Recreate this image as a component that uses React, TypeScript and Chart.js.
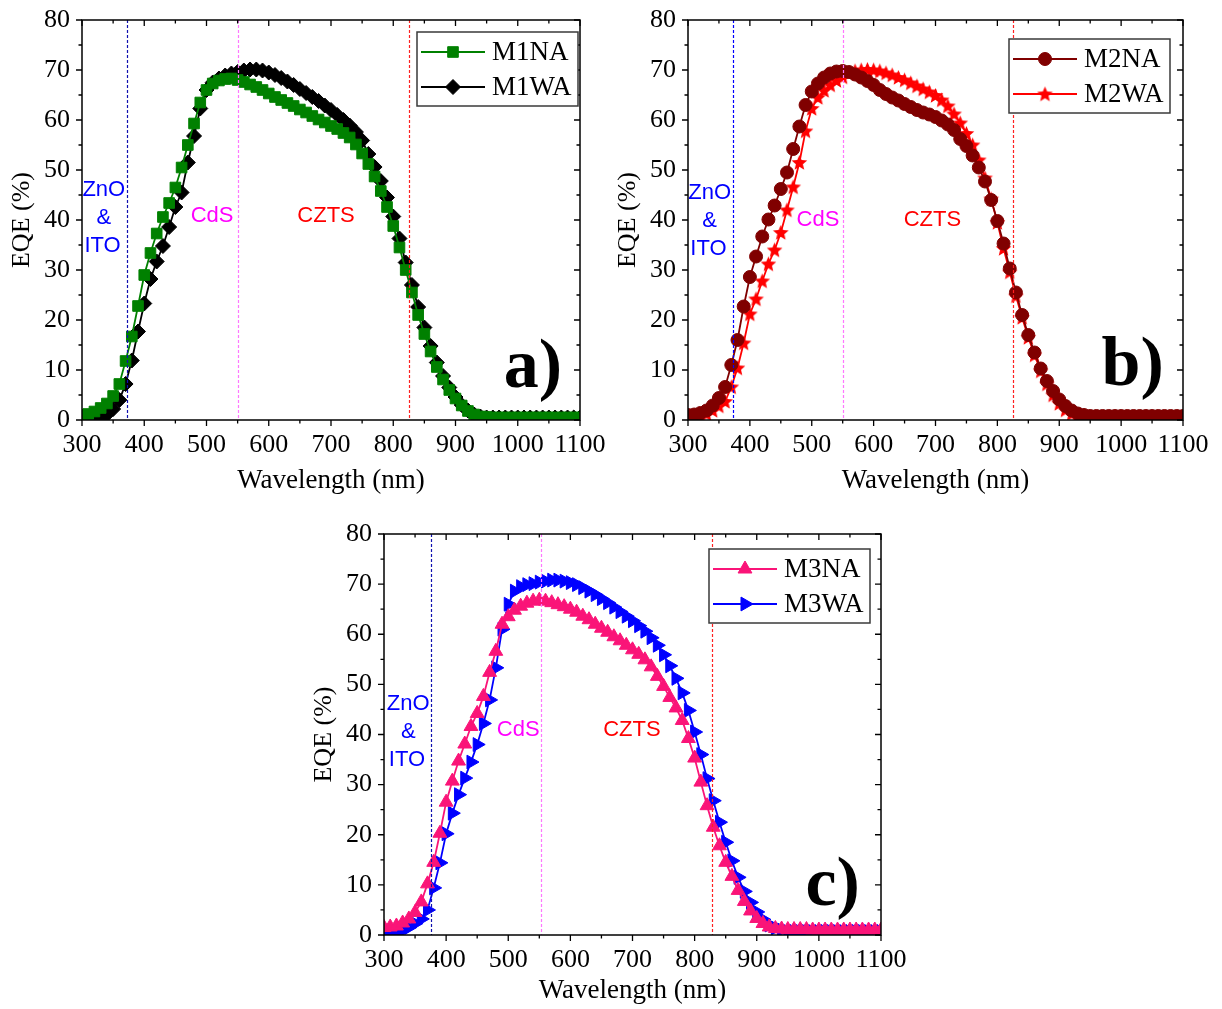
import React, { useEffect, useRef } from 'react';
import { Chart, registerables } from 'chart.js';
import { drawPoint } from 'chart.js/helpers';

Chart.register(...registerables);

// ---------------- data ----------------
const wavelengths = [
  300, 310, 320, 330, 340, 350, 360, 370, 380, 390,
  400, 410, 420, 430, 440, 450, 460, 470, 480, 490,
  500, 510, 520, 530, 540, 550, 560, 570, 580, 590,
  600, 610, 620, 630, 640, 650, 660, 670, 680, 690,
  700, 710, 720, 730, 740, 750, 760, 770, 780, 790,
  800, 810, 820, 830, 840, 850, 860, 870, 880, 890,
  900, 910, 920, 930, 940, 950, 960, 970, 980, 990,
  1000, 1010, 1020, 1030, 1040, 1050, 1060, 1070, 1080, 1090,
  1100,
];

const m1na = [
  1.0, 1.2, 1.7, 2.4, 3.3, 4.8, 7.2, 11.8, 16.7, 22.8,
  29.0, 33.4, 37.3, 40.6, 43.4, 46.5, 50.5, 55.0, 59.3, 63.5,
  66.0, 67.3, 67.9, 68.2, 68.3, 68.0, 67.6, 67.1, 66.6, 66.0,
  65.3, 64.6, 64.0, 63.4, 62.8, 62.1, 61.5, 60.8, 60.1, 59.5,
  58.8, 58.2, 57.4, 56.5, 55.1, 53.3, 51.2, 48.7, 45.8, 42.6,
  38.8, 34.5, 30.0, 25.5, 21.0, 17.2, 13.7, 10.6, 8.1, 6.0,
  4.3, 2.9, 1.8, 1.1, 0.7, 0.6, 0.5, 0.5, 0.5, 0.5,
  0.5, 0.5, 0.5, 0.5, 0.5, 0.5, 0.5, 0.5, 0.5, 0.5,
  0.5,
];

const m1wa = [
  0.5, 0.4, 0.4, 0.6, 1.1, 2.2, 4.0, 7.2, 11.9, 17.7,
  23.3, 28.2, 31.7, 34.8, 38.6, 42.6, 45.5, 51.5, 56.8, 62.3,
  66.0, 67.5, 68.3, 68.9, 69.3, 69.6, 69.9, 70.1, 70.1, 69.9,
  69.5, 69.0, 68.4, 67.7, 67.0, 66.2, 65.4, 64.6, 63.8, 62.9,
  62.0, 61.0, 60.0, 58.9, 57.6, 55.9, 53.2, 50.6, 47.8, 44.5,
  40.7, 36.3, 31.5, 27.0, 22.6, 18.5, 14.8, 11.5, 8.8, 6.5,
  4.6, 3.0, 1.9, 1.1, 0.7, 0.5, 0.5, 0.5, 0.5, 0.5,
  0.5, 0.5, 0.5, 0.5, 0.5, 0.5, 0.5, 0.5, 0.5, 0.5,
  0.5,
];

const m2na = [
  1.0, 1.1, 1.4, 1.9, 2.9, 4.4, 6.6, 11.0, 16.0, 22.7,
  28.6, 32.7, 36.7, 40.1, 42.9, 46.2, 49.5, 54.2, 58.7, 63.0,
  65.7, 67.3, 68.5, 69.3, 69.7, 69.8, 69.6, 69.1, 68.5, 67.8,
  67.0, 66.0, 65.2, 64.5, 63.9, 63.2, 62.6, 62.0, 61.5, 61.1,
  60.6, 59.9, 59.1, 58.0, 56.2, 54.8, 52.9, 50.5, 47.7, 44.0,
  39.8, 35.3, 30.3, 25.5, 21.0, 17.0, 13.5, 10.3, 7.8, 5.8,
  4.1, 2.8, 1.9, 1.3, 1.0, 0.8, 0.8, 0.8, 0.8, 0.8,
  0.8, 0.8, 0.8, 0.8, 0.8, 0.8, 0.8, 0.8, 0.8, 0.8,
  0.8,
];

const m2wa = [
  0.5, 0.6, 0.8, 1.2, 1.9, 2.8, 3.7, 6.6, 10.4, 15.4,
  21.2, 24.2, 27.8, 31.2, 34.0, 37.5, 42.0, 46.6, 51.5, 57.8,
  62.3, 64.5, 65.9, 67.0, 67.9, 68.6, 69.3, 69.8, 70.0, 70.1,
  70.0, 69.8, 69.4, 69.0, 68.5, 68.0, 67.4, 66.8, 66.2, 65.6,
  64.9, 64.0, 62.8, 61.2, 59.4, 57.3, 55.0, 52.0, 48.4, 44.2,
  39.5, 34.3, 29.6, 24.8, 20.5, 16.5, 13.0, 9.8, 7.2, 5.0,
  3.3, 2.0, 1.2, 0.8, 0.6, 0.5, 0.5, 0.5, 0.5, 0.5,
  0.5, 0.5, 0.5, 0.5, 0.5, 0.5, 0.5, 0.5, 0.5, 0.5,
  0.5,
];

const m3na = [
  1.5, 1.6, 1.8, 2.4, 3.2, 4.5, 6.6, 10.2, 14.5, 20.3,
  26.5, 30.7, 34.7, 38.1, 41.6, 44.2, 47.6, 52.4, 56.6, 62.0,
  63.5, 64.8, 65.6, 66.2, 66.6, 66.8, 66.6, 66.3, 65.9, 65.5,
  65.0, 64.4, 63.6, 62.9, 62.0, 61.2, 60.4, 59.5, 58.7, 57.8,
  56.9, 56.0, 54.9, 53.5, 51.6, 49.6, 47.4, 45.3, 42.8, 39.2,
  35.3, 30.5, 25.8, 21.5, 17.8, 14.5, 11.7, 8.9, 6.7, 4.8,
  3.3, 2.3, 1.6, 1.3, 1.2, 1.1, 1.1, 1.1, 1.1, 1.0,
  1.0, 1.0, 1.0, 1.0, 1.0, 1.0, 1.0, 1.0, 1.0, 1.0,
  1.0,
];

const m3wa = [
  0.5, 0.5, 0.6, 0.9, 1.5, 2.3, 3.2, 5.0, 9.4, 14.4,
  20.2, 24.3, 28.0, 31.3, 34.5, 38.0, 42.2, 46.9, 53.3, 61.0,
  66.0, 68.6, 69.5, 69.9, 70.1, 70.4, 70.6, 70.8, 70.8, 70.6,
  70.3, 69.9, 69.3, 68.6, 67.9, 67.1, 66.3, 65.4, 64.5, 63.6,
  62.7, 61.7, 60.6, 59.3, 57.8, 55.9, 53.7, 51.2, 48.3, 44.8,
  40.5, 36.0, 31.2, 26.8, 22.5, 18.5, 14.8, 11.5, 8.7, 6.5,
  4.6, 3.1, 2.0, 1.4, 1.0, 0.7, 0.7, 0.7, 0.7, 0.7,
  0.7, 0.7, 0.7, 0.7, 0.7, 0.7, 0.7, 0.7, 0.7, 0.7,
  0.7,
];

const xMin = 300;
const xMax = 1100;
const yMin = 0;
const yMax = 80;
const xTitle = 'Wavelength (nm)';
const yTitle = 'EQE (%)';

// layer boundary markers (nm) per panel
const vlinesA = [373, 550, 825];
const vlinesB = [373, 550, 826];
const vlinesC = [376, 553, 828];

// ---------------- styling ----------------
const SERIF = '"Liberation Serif", "Times New Roman", serif';
const SANS = '"Liberation Sans", Arial, sans-serif';

type Series = {
  label: string;
  data: number[];
  color: string;
  style: string;
  radius: number;
  rotation: number;
};

type Label = { text: string; x: number; y: number; color: string };

type PanelCfg = {
  left: number;
  top: number;
  width: number;
  height: number;
  padRight: number;
  xAxisH: number;
  xTitlePad: number;
  series: Series[];
  vlines: number[];
  vlineColors: string[];
  labels: Label[];
  tag: string;
  tagAt: [number, number];
  legendInset: number;
  legendTop: number;
};

function layerLabels(zx: number, zy: number, cx: number, cy: number, tx: number, ty: number): Label[] {
  return [
    { text: 'ZnO', x: zx, y: zy, color: '#0000FF' },
    { text: '&', x: zx, y: zy - 5.6, color: '#0000FF' },
    { text: 'ITO', x: zx - 2, y: zy - 11.1, color: '#0000FF' },
    { text: 'CdS', x: cx, y: cy, color: '#FF00FF' },
    { text: 'CZTS', x: tx, y: ty, color: '#FF0000' },
  ];
}

const panels: PanelCfg[] = [
  {
    left: 0, top: 0, width: 610, height: 500, padRight: 30, xAxisH: 80, xTitlePad: 3,
    series: [
      { label: 'M1NA', data: m1na, color: '#008000', style: 'rect', radius: 7.5, rotation: 0 },
      { label: 'M1WA', data: m1wa, color: '#000000', style: 'rectRot', radius: 7.5, rotation: 0 },
    ],
    vlines: vlinesA,
    vlineColors: ['#1010B0', '#FF77FF', '#FF2020'],
    labels: layerLabels(335, 46, 509, 40.8, 692, 40.8),
    tag: 'a)', tagAt: [1071, 6.6],
    legendInset: 2, legendTop: 12,
  },
  {
    left: 606, top: 0, width: 612, height: 500, padRight: 35, xAxisH: 80, xTitlePad: 3,
    series: [
      { label: 'M2NA', data: m2na, color: '#800000', style: 'circle', radius: 6.5, rotation: 0 },
      { label: 'M2WA', data: m2wa, color: '#FF0000', style: 'star5', radius: 8.5, rotation: 0 },
    ],
    vlines: vlinesB,
    vlineColors: ['#0000FF', '#FF77FF', '#FF2020'],
    labels: layerLabels(335, 45.4, 510, 40, 695, 40),
    tag: 'b)', tagAt: [1069, 7.0],
    legendInset: 13, legendTop: 19,
  },
  {
    left: 302, top: 514, width: 610, height: 495, padRight: 31, xAxisH: 74, xTitlePad: 2,
    series: [
      { label: 'M3NA', data: m3na, color: '#FA1478', style: 'triangle', radius: 8, rotation: 0 },
      { label: 'M3WA', data: m3wa, color: '#0000FF', style: 'triangle', radius: 8, rotation: 90 },
    ],
    vlines: vlinesC,
    vlineColors: ['#1010B0', '#FF77FF', '#FF2020'],
    labels: layerLabels(339, 46.1, 516, 40.9, 699, 40.9),
    tag: 'c)', tagAt: [1066, 6.0],
    legendInset: 11, legendTop: 15,
  },
];

function makeStar(color: string, size: number): HTMLCanvasElement {
  const c = document.createElement('canvas');
  c.width = size;
  c.height = size;
  const g = c.getContext('2d')!;
  const cx = size / 2;
  const cy = size / 2 + 0.6;
  const R = size / 2 - 0.3;
  const r = R * 0.45;
  g.beginPath();
  for (let i = 0; i < 10; i++) {
    const ang = -Math.PI / 2 + (i * Math.PI) / 5;
    const rr = i % 2 === 0 ? R : r;
    g.lineTo(cx + rr * Math.cos(ang), cy + rr * Math.sin(ang));
  }
  g.closePath();
  g.fillStyle = color;
  g.fill();
  return c;
}

function resolveStyle(s: Series): any {
  if (s.style === 'star5') return makeStar(s.color, Math.round(s.radius * 2));
  return s.style;
}

function makePlugin(cfg: PanelCfg, styles: any[]) {
  return {
    id: 'panelDecor',
    afterDatasetsDraw(chart: any) {
      const { ctx, chartArea } = chart;
      const { left, right, top, bottom } = chartArea;
      const xs = chart.scales.x;
      const ys = chart.scales.y;
      ctx.save();

      // layer boundary dashed lines
      cfg.vlines.forEach((v, i) => {
        const px = Math.round(xs.getPixelForValue(v)) + 0.5;
        ctx.beginPath();
        ctx.setLineDash([3, 2]);
        ctx.lineWidth = 1.2;
        ctx.strokeStyle = cfg.vlineColors[i];
        ctx.moveTo(px, top);
        ctx.lineTo(px, bottom);
        ctx.stroke();
      });
      ctx.setLineDash([]);

      // layer labels
      ctx.font = `22px ${SANS}`;
      ctx.textAlign = 'center';
      ctx.textBaseline = 'middle';
      cfg.labels.forEach((l) => {
        ctx.fillStyle = l.color;
        ctx.fillText(l.text, xs.getPixelForValue(l.x), ys.getPixelForValue(l.y));
      });

      // panel tag
      ctx.font = `bold 70px ${SERIF}`;
      ctx.textAlign = 'right';
      ctx.textBaseline = 'alphabetic';
      ctx.fillStyle = '#000';
      ctx.fillText(cfg.tag, xs.getPixelForValue(cfg.tagAt[0]), ys.getPixelForValue(cfg.tagAt[1]));

      // frame
      ctx.lineWidth = 1.5;
      ctx.strokeStyle = '#000';
      ctx.strokeRect(left, top, right - left, bottom - top);

      // ticks
      ctx.lineWidth = 1.3;
      ctx.beginPath();
      for (let v = yMin; v <= yMax; v += 5) {
        const py = ys.getPixelForValue(v);
        const len = v % 10 === 0 ? 6 : 3.5;
        ctx.moveTo(left, py);
        ctx.lineTo(left - len, py);
        ctx.moveTo(right, py);
        ctx.lineTo(right - len, py);
      }
      for (let v = xMin; v <= xMax; v += 50) {
        const px = xs.getPixelForValue(v);
        const len = v % 100 === 0 ? 6 : 3.5;
        ctx.moveTo(px, bottom);
        ctx.lineTo(px, bottom + len);
        ctx.moveTo(px, top);
        ctx.lineTo(px, top + len);
      }
      ctx.stroke();

      // legend
      const boxW = 161;
      const boxH = 74;
      const bx = right - cfg.legendInset - boxW;
      const by = top + cfg.legendTop;
      ctx.fillStyle = '#fff';
      ctx.fillRect(bx, by, boxW, boxH);
      ctx.lineWidth = 1.5;
      ctx.strokeStyle = '#3a3a3a';
      ctx.strokeRect(bx, by, boxW, boxH);
      cfg.series.forEach((s, i) => {
        const ry = by + 20 + i * 35;
        ctx.strokeStyle = s.color;
        ctx.fillStyle = s.color;
        ctx.lineWidth = 2.2;
        ctx.beginPath();
        ctx.moveTo(bx + 4, ry);
        ctx.lineTo(bx + 68, ry);
        ctx.stroke();
        ctx.lineWidth = 1;
        drawPoint(ctx, { pointStyle: styles[i], rotation: s.rotation, radius: s.radius, borderWidth: 1 } as any, bx + 36, ry);
        ctx.fillStyle = '#000';
        ctx.font = `27px ${SERIF}`;
        ctx.textAlign = 'left';
        ctx.textBaseline = 'middle';
        ctx.fillText(s.label, bx + 75, ry + 1);
      });

      ctx.restore();
    },
  };
}

function Panel({ cfg }: { cfg: PanelCfg }) {
  const ref = useRef<HTMLCanvasElement | null>(null);
  useEffect(() => {
    if (!ref.current) return;
    const styles = cfg.series.map(resolveStyle);
    const datasets = cfg.series.map((s, i) => ({
      label: s.label,
      data: wavelengths.map((w, k) => ({ x: w, y: s.data[k] })),
      borderColor: s.color,
      backgroundColor: s.color,
      borderWidth: 1.8,
      pointStyle: styles[i],
      pointRadius: s.radius,
      pointRotation: s.rotation,
      pointBackgroundColor: s.color,
      pointBorderColor: s.color,
      pointBorderWidth: 1,
      tension: 0,
    }));
    const chart = new Chart(ref.current, {
      type: 'line',
      data: { datasets },
      options: {
        animation: false,
        responsive: false,
        maintainAspectRatio: false,
        devicePixelRatio: 1,
        layout: { padding: { left: 0, right: cfg.padRight, top: 20, bottom: 0 } },
        plugins: { legend: { display: false }, tooltip: { enabled: false } },
        scales: {
          x: {
            type: 'linear',
            min: xMin,
            max: xMax,
            grid: { display: false, drawTicks: false },
            border: { display: false },
            ticks: {
              stepSize: 100,
              padding: 10,
              color: '#000',
              autoSkip: false,
              maxRotation: 0,
              font: { family: SERIF, size: 26 },
              callback: (v: any) => String(v),
            },
            title: {
              display: true,
              text: xTitle,
              color: '#000',
              font: { family: SERIF, size: 27 },
              padding: { top: 0, bottom: cfg.xTitlePad },
            },
            afterFit: (s: any) => {
              s.height = cfg.xAxisH;
              s.paddingLeft = 0;
              s.paddingRight = 0;
              s.paddingTop = 0;
              s.paddingBottom = 0;
            },
          },
          y: {
            type: 'linear',
            min: yMin,
            max: yMax,
            grid: { display: false, drawTicks: false },
            border: { display: false },
            ticks: {
              stepSize: 10,
              padding: 12,
              color: '#000',
              font: { family: SERIF, size: 26 },
              callback: (v: any) => String(v),
            },
            title: {
              display: true,
              text: yTitle,
              color: '#000',
              font: { family: SERIF, size: 26 },
              padding: { top: 7, bottom: 0 },
            },
            afterFit: (s: any) => {
              s.width = 82;
              s.paddingTop = 0;
              s.paddingBottom = 0;
              s.paddingLeft = 0;
              s.paddingRight = 0;
            },
          },
        },
      } as any,
      plugins: [makePlugin(cfg, styles)],
    });
    return () => chart.destroy();
  }, [cfg]);
  return (
    <canvas
      ref={ref}
      width={cfg.width}
      height={cfg.height}
      style={{ position: 'absolute', left: cfg.left, top: cfg.top, width: cfg.width, height: cfg.height }}
    />
  );
}

export default function App() {
  return (
    <div
      style={{
        position: 'absolute',
        left: 0,
        top: 0,
        width: 1222,
        height: 1009,
        background: '#fff',
        overflow: 'hidden',
      }}
    >
      {panels.map((p, i) => (
        <Panel key={i} cfg={p} />
      ))}
    </div>
  );
}
